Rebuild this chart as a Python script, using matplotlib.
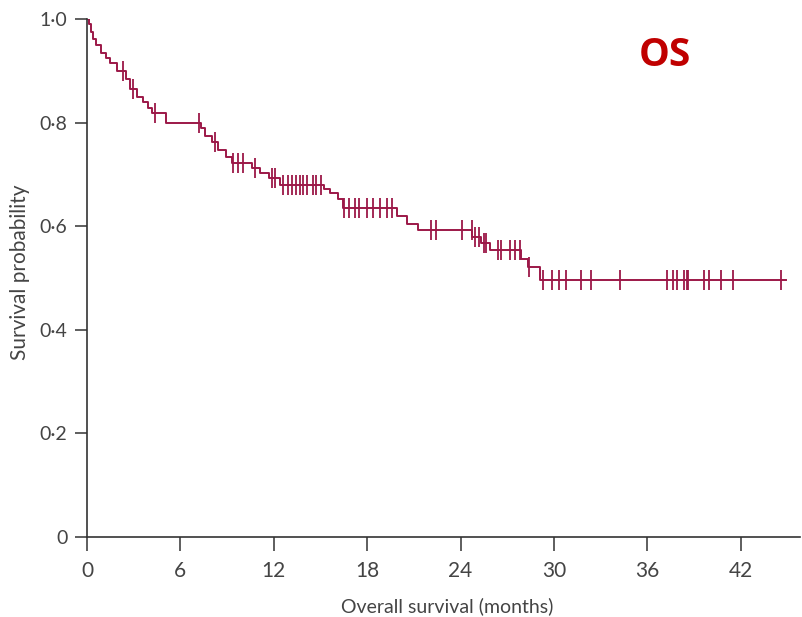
import numpy as np
import matplotlib
matplotlib.use("Agg")
import matplotlib.pyplot as plt

# Kaplan-Meier steps: time of each drop (months) and survival after it
event_times = [0.1, 0.25, 0.4, 0.6, 0.9, 1.2, 1.5, 1.9, 2.5, 2.75, 3.2, 3.6,
               3.9, 4.2, 5.1, 7.3, 7.6, 8.0, 8.4, 8.9, 9.3, 10.6, 11.1, 11.7,
               12.4, 15.2, 15.6, 16.1, 16.45, 19.9, 20.55, 21.25, 24.75, 25.3,
               25.9, 27.9, 28.3, 29.1]
event_surv = [0.99, 0.975, 0.962, 0.95, 0.935, 0.925, 0.915, 0.90, 0.885, 0.865,
              0.85, 0.84, 0.828, 0.818, 0.80, 0.79, 0.775, 0.762, 0.748, 0.733,
              0.722, 0.712, 0.703, 0.693, 0.68, 0.672, 0.664, 0.652, 0.635,
              0.62, 0.605, 0.593, 0.58, 0.567, 0.554, 0.537, 0.522, 0.497]

censor_times = [2.3, 2.95, 4.4, 7.2, 8.2, 9.4, 9.7, 10.0, 10.8, 11.9, 12.1,
                12.6, 12.9, 13.2, 13.4, 13.7, 13.9, 14.1, 14.5, 14.7, 15.0,
                16.5, 16.8, 17.2, 17.5, 18.0, 18.4, 18.8, 19.3, 19.6,
                22.1, 22.4, 24.1, 24.7, 24.9, 25.2, 25.5, 25.65,
                26.4, 26.6, 27.2, 27.5, 27.8, 28.4,
                29.3, 29.85, 30.33, 30.76, 31.73, 32.35, 34.23, 37.23, 37.66,
                37.87, 38.36, 38.52, 38.62, 39.65, 39.97, 40.70, 41.51, 44.55]
follow_up_end = 44.9

x_ticks = [0, 6, 12, 18, 24, 30, 36, 42]
y_ticks = [0, 0.2, 0.4, 0.6, 0.8, 1.0]
y_tick_labels = ["0", "0·2", "0·4", "0·6", "0·8", "1·0"]

line_color = "#9c1848"
narrow = ["Lato", "DejaVu Sans"]

# build step curve
t = np.concatenate([[0], event_times, [follow_up_end]])
s = np.concatenate([[1.0], event_surv, [event_surv[-1]]])
idx = np.searchsorted(event_times, censor_times, side="right")
censor_surv = np.concatenate([[1.0], event_surv])[idx]

fig = plt.figure(figsize=(8.02, 6.17), dpi=100)
ax = fig.add_axes([87 / 802, 1 - 537 / 617, 713 / 802, 518 / 617])

ax.step(t, s, where="post", color=line_color, lw=1.4)
ax.plot(censor_times, censor_surv, ls="none", marker="|", ms=14, mew=1.3,
        color=line_color)

ax.set_xlim(0, 45.8)
ax.set_ylim(0, 1.0)
ax.set_xticks(x_ticks)
ax.set_xticklabels([str(v) for v in x_ticks], family=narrow, fontsize=15,
                   color="#444444")
ax.set_yticks(y_ticks)
ax.set_yticklabels(y_tick_labels, family=narrow, fontsize=14, color="#444444")
ax.tick_params(axis="x", length=10, width=1.1, color="#333333", pad=7)
ax.tick_params(axis="y", length=9, width=1.1, color="#333333", pad=5)

for side in ["top", "right"]:
    ax.spines[side].set_visible(False)
for side in ["left", "bottom"]:
    ax.spines[side].set_color("#333333")
    ax.spines[side].set_linewidth(1.2)

fig.text(20 / 802, 1 - 272 / 617, "Survival probability", rotation=90,
         ha="center", va="center", family=narrow, fontsize=15, color="#444444")
fig.text(447 / 802, 1 - 615 / 617, "Overall survival (months)",
         ha="center", va="bottom", family=narrow, fontsize=14, color="#444444")
fig.text(665 / 802, 1 - 55 / 617, "OS", ha="center", va="center",
         fontsize=28, fontweight="bold", color="#c00000",
         family=["Open Sans", "DejaVu Sans"])

fig.savefig("out.png", dpi=100)
